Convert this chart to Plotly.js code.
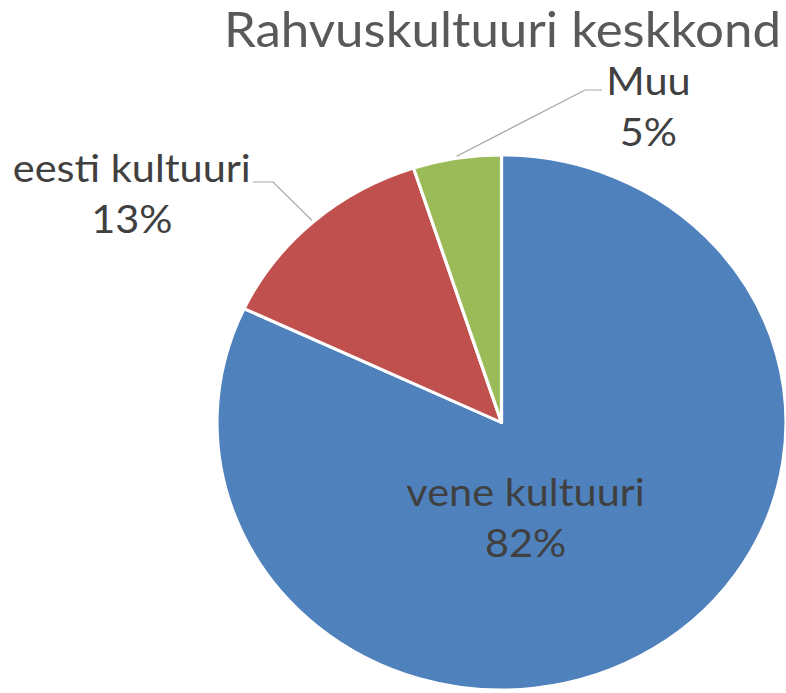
<!DOCTYPE html>
<html>
<head>
<meta charset="utf-8">
<script src="https://cdn.plot.ly/plotly-3.0.1.min.js"></script>
<style>
html,body{margin:0;padding:0;background:#fff;overflow:hidden}
#chart{width:739px;height:700px;transform:scaleX(1.0636);transform-origin:0 0}
</style>
</head>
<body>
<div id="chart"></div>
<script>
// Data
const chartTitle = "Rahvuskultuuri keskkond";
const categories = ["vene kultuuri", "eesti kultuuri", "Muu"];
const values = [82, 13, 5];
const colors = ["#4F81BD", "#C0504D", "#9BBB59"];

// Layout geometry (pixels of the reference; the page is stretched horizontally by SX)
const SX = 1.0636;
const W = 739, H = 700;
const cx = 501.5 / SX, cy = 422.5, R = 267.5;
const px = x => (x / SX) / W;   // x given in reference pixels
const pxu = x => x / W;         // x given in unscaled pixels
const py = y => 1 - y / H;

const total = values.reduce((a, b) => a + b, 0);
const pctText = values.map(v => Math.round(v / total * 100) + "%");

// label positions (text block centres) and leader elbows, in reference pixels
const labelPos = [
  {x: 525, y: 516, inside: true},
  {x: 131.5, y: 193, elbow: [273, 182], end: [253, 182]},
  {x: 648, y: 105, elbow: [585, 90], end: [602, 90]}
];

const font = "Lato, 'Open Sans', sans-serif";

const annotations = categories.map((c, i) => ({
  xref: "paper", yref: "paper",
  x: px(labelPos[i].x), y: py(labelPos[i].y),
  xanchor: "center", yanchor: "middle",
  text: c + "<br>" + pctText[i],
  showarrow: false,
  font: {family: font, size: 39, color: "#404040"}
}));

// leader lines from each outside slice's mid-angle on the rim
const shapes = [];
let cum = 0;
values.forEach((v, i) => {
  const mid = (cum + v / 2) / total * 2 * Math.PI;
  cum += v;
  const lp = labelPos[i];
  if (lp.inside) return;
  const ex = cx + (R + 2) * Math.sin(mid), ey = cy - (R + 2) * Math.cos(mid);
  shapes.push({
    type: "path", xref: "paper", yref: "paper",
    path: "M" + pxu(ex) + "," + py(ey) + " L" + px(lp.elbow[0]) + "," + py(lp.elbow[1]) +
          " L" + px(lp.end[0]) + "," + py(lp.end[1]),
    line: {color: "#A6A6A6", width: 1.2}
  });
});

const data = [{
  type: "pie",
  labels: categories,
  values: values,
  sort: false,
  direction: "clockwise",
  rotation: 0,
  textinfo: "none",
  hoverinfo: "label+percent",
  marker: {colors: colors, line: {color: "#FFFFFF", width: 3}},
  domain: {x: [pxu(cx - R), pxu(cx + R)], y: [py(cy + R), py(cy - R)]},
  showlegend: false
}];

const layout = {
  width: W, height: H,
  margin: {l: 0, r: 0, t: 0, b: 0},
  paper_bgcolor: "#FFFFFF",
  title: {
    text: chartTitle,
    x: px(502.5), xanchor: "center", xref: "paper",
    y: py(30), yanchor: "middle", yref: "container",
    font: {family: font, size: 48, color: "#595959"}
  },
  annotations: annotations,
  shapes: shapes,
  showlegend: false
};

Plotly.newPlot("chart", data, layout, {displayModeBar: false, staticPlot: true});
</script>
</body>
</html>
